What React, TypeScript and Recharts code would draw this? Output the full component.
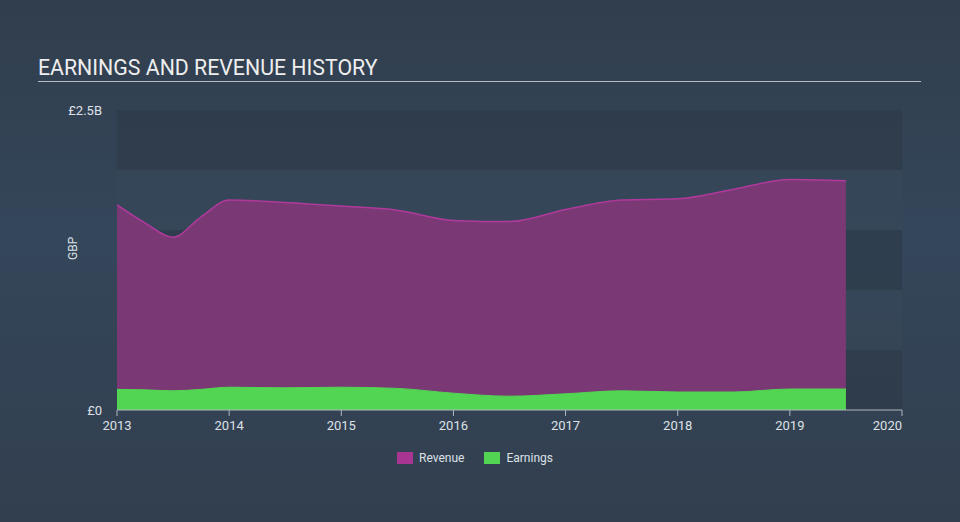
import { AreaChart, Area, XAxis, YAxis, ReferenceArea } from "recharts";

// period (fractional year) and values in GBP billions
const periods = [2013, 2013.25, 2013.5, 2013.75, 2014, 2014.5, 2015, 2015.5, 2016, 2016.5, 2017, 2017.5, 2018, 2018.5, 2019, 2019.5];
const revenue = [1.71, 1.56, 1.44, 1.61, 1.75, 1.73, 1.70, 1.665, 1.58, 1.57, 1.67, 1.75, 1.76, 1.84, 1.92, 1.91];
const earnings = [0.172, 0.168, 0.16, 0.172, 0.19, 0.185, 0.19, 0.18, 0.14, 0.115, 0.135, 0.16, 0.15, 0.15, 0.175, 0.175];

const xTicks = [2013, 2014, 2015, 2016, 2017, 2018, 2019, 2020];
const yTicks = [0, 2.5];
const bands = [[0, 0.5], [1, 1.5], [2, 2.5]];
const lightBands = [[0.5, 1], [1.5, 2]];

const legendItems = [
  { name: "Revenue", color: "#a93593" },
  { name: "Earnings", color: "#52d552" },
];

const chartData = periods.map((p, i) => ({
  period: p,
  revenue: revenue[i],
  earnings: earnings[i],
}));

const fmtY = (v: number) => (v === 0 ? "£0" : `£${v}B`);

// last year label sits flush with the axis end, like the original
const XTick = ({ x, y, payload }: any) => {
  const last = payload.value === xTicks[xTicks.length - 1];
  return (
    <text x={x} y={y + 12} textAnchor={last ? "end" : "middle"} fill="#dde1e6" fontSize={13}>
      {payload.value}
    </text>
  );
};

export default function App() {
  return (
    <div
      style={{
        position: "absolute",
        left: 0,
        top: 0,
        width: 960,
        height: 522,
        background: "linear-gradient(180deg, #313e4d 0%, #34465a 45%, #323f4f 100%)",
        fontFamily: "Roboto, sans-serif",
      }}
    >
      <div style={{ position: "absolute", left: 38, top: 55, fontSize: 21.3, color: "#eeeeee" }}>
        EARNINGS AND REVENUE HISTORY
      </div>
      <div style={{ position: "absolute", left: 38, top: 81, width: 883, height: 1, background: "#b6bcc4" }} />
      <AreaChart
        width={960}
        height={522}
        data={chartData}
        margin={{ top: 110, right: 58, left: 0, bottom: 82 }}
      >
        {bands.map(([a, b]) => (
          <ReferenceArea key={a} y1={a} y2={b} fill="#2b3846" fillOpacity={0.55} stroke="none" />
        ))}
        {lightBands.map(([a, b]) => (
          <ReferenceArea key={`l${a}`} y1={a} y2={b} fill="#3a4b5c" fillOpacity={0.25} stroke="none" />
        ))}
        <XAxis
          dataKey="period"
          type="number"
          domain={[2013, 2020]}
          ticks={xTicks}
          tick={<XTick />}
          stroke="#b0b6be"
          height={30}
        />
        <YAxis
          type="number"
          domain={[0, 2.5]}
          ticks={yTicks}
          tickFormatter={fmtY}
          tick={{ fill: "#dde1e6", fontSize: 13 }}
          axisLine={false}
          tickLine={false}
          tickMargin={9}
          width={117}
          label={{ value: "GBP", angle: -90, position: "insideLeft", offset: 73, fill: "#dde1e6", fontSize: 12 }}
        />
        <Area
          type="monotone"
          dataKey="revenue"
          name="Revenue"
          stroke="#b03a9c"
          strokeWidth={1.5}
          fill="#7a3874"
          fillOpacity={1}
          isAnimationActive={false}
        />
        <Area
          type="monotone"
          dataKey="earnings"
          name="Earnings"
          stroke="#52d552"
          strokeWidth={1}
          fill="#52d552"
          fillOpacity={1}
          isAnimationActive={false}
        />
      </AreaChart>
      {/* legend kept outside the chart so it does not shift the plot area */}
      <div
        style={{
          position: "absolute",
          top: 451,
          left: 0,
          width: 950,
          display: "flex",
          justifyContent: "center",
          gap: 20,
          fontSize: 12,
          color: "#dde1e6",
        }}
      >
        {legendItems.map((it) => (
          <div key={it.name} style={{ display: "flex", alignItems: "center", gap: 6 }}>
            <span style={{ display: "inline-block", width: 16, height: 12, background: it.color }} />
            <span>{it.name}</span>
          </div>
        ))}
      </div>
    </div>
  );
}
